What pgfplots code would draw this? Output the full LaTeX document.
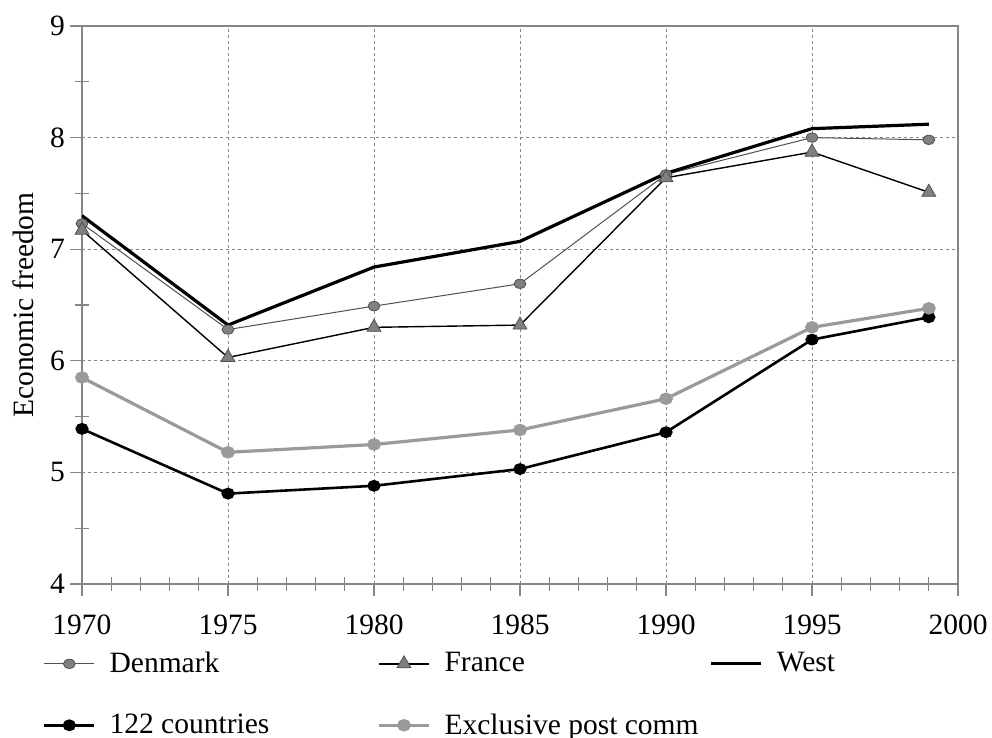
\documentclass[border=0pt]{standalone}
\usepackage{fontspec}
\setmainfont{Liberation Serif}
\usepackage{pgfplots}
\pgfplotsset{compat=1.18}
\usetikzlibrary{calc}
\definecolor{mgray}{HTML}{808080}
\definecolor{lgray}{HTML}{9A9A9A}
\definecolor{dgray}{HTML}{505050}
\definecolor{axgray}{HTML}{868686}
\newcommand{\ff}{\fontsize{14.75}{17}\selectfont}
\begin{document}
\begin{tikzpicture}
\begin{axis}[
  name=ax,
  scale only axis, width=438pt, height=279pt,
  xmin=1970, xmax=2000, ymin=4, ymax=9,
  xtick={1970,1975,...,2000}, ytick={4,5,...,9},
  minor x tick num=4, minor y tick num=1,
  xtick pos=bottom, ytick pos=left,
  tick align=outside,
  major tick length=6pt, minor tick length=7pt,
  minor x tick style={yshift=3.5pt},
  minor y tick style={xshift=3.5pt},
  every tick/.style={axgray, line width=0.6pt},
  axis line style={axgray, line width=0.8pt},
  grid=major,
  major grid style={axgray, line width=0.5pt, dash pattern=on 1.5pt off 1.5pt},
  /pgf/number format/assume math mode=true,
  /pgf/number format/1000 sep={},
  ticklabel style={font=\ff},
  xticklabel shift=6pt,
  yticklabel shift=-1pt,
  every axis y label/.style={at={(axis description cs:-0.0674,0.5)}, rotate=90, anchor=center, font=\ff},
  ylabel={Economic freedom},
  legend columns=3,
  legend cell align=left,
  legend style={at={(axis description cs:-0.0445,-0.122)}, anchor=north west,
    draw=none, fill=none, font=\ff, inner sep=0pt, outer sep=0pt,
    nodes={inner sep=0pt}, column sep=7pt, row sep=19pt,
    /tikz/column 2/.style={column sep=54pt},
    /tikz/column 4/.style={column sep=5.5pt}},
  legend image code/.code={\draw[mark repeat=2,mark phase=2,#1] plot coordinates {(0pt,0pt)(12.5pt,0pt)(25pt,0pt)};},
]
\addplot[dgray, line width=0.5pt, mark=*, mark size=2.3pt, mark options={xscale=1.3, fill=mgray, draw=dgray, line width=0.4pt}]
  coordinates {(1970,7.23)(1975,6.28)(1980,6.49)(1985,6.69)(1990,7.67)(1995,8.00)(1999,7.98)};
\addlegendentry{Denmark}
\addplot[black, line width=0.7pt, mark=triangle*, mark size=4pt, mark options={fill=mgray, draw=dgray, line width=0.4pt}]
  coordinates {(1970,7.17)(1975,6.03)(1980,6.30)(1985,6.32)(1990,7.64)(1995,7.87)(1999,7.51)};
\addlegendentry{France}
\addplot[black, line width=1.6pt]
  coordinates {(1970,7.30)(1975,6.32)(1980,6.84)(1985,7.07)(1990,7.68)(1995,8.08)(1999,8.12)};
\addlegendentry{West}
\addplot[black, line width=1.3pt, mark=*, mark size=2.3pt, mark options={xscale=1.15, fill=black}]
  coordinates {(1970,5.39)(1975,4.81)(1980,4.88)(1985,5.03)(1990,5.36)(1995,6.19)(1999,6.39)};
\addlegendentry{122 countries}
\addplot[lgray, line width=1.6pt, mark=*, mark size=2.3pt, mark options={xscale=1.15, fill=lgray, draw=lgray}]
  coordinates {(1970,5.85)(1975,5.18)(1980,5.25)(1985,5.38)(1990,5.66)(1995,6.30)(1999,6.47)};
\addlegendentry{Exclusive post comm}
\end{axis}
\pgfresetboundingbox
\path ($(ax.south west)+(-41pt,-76.5pt)$) rectangle ($(ax.north east)+(17pt,13pt)$);
\end{tikzpicture}
\end{document}
